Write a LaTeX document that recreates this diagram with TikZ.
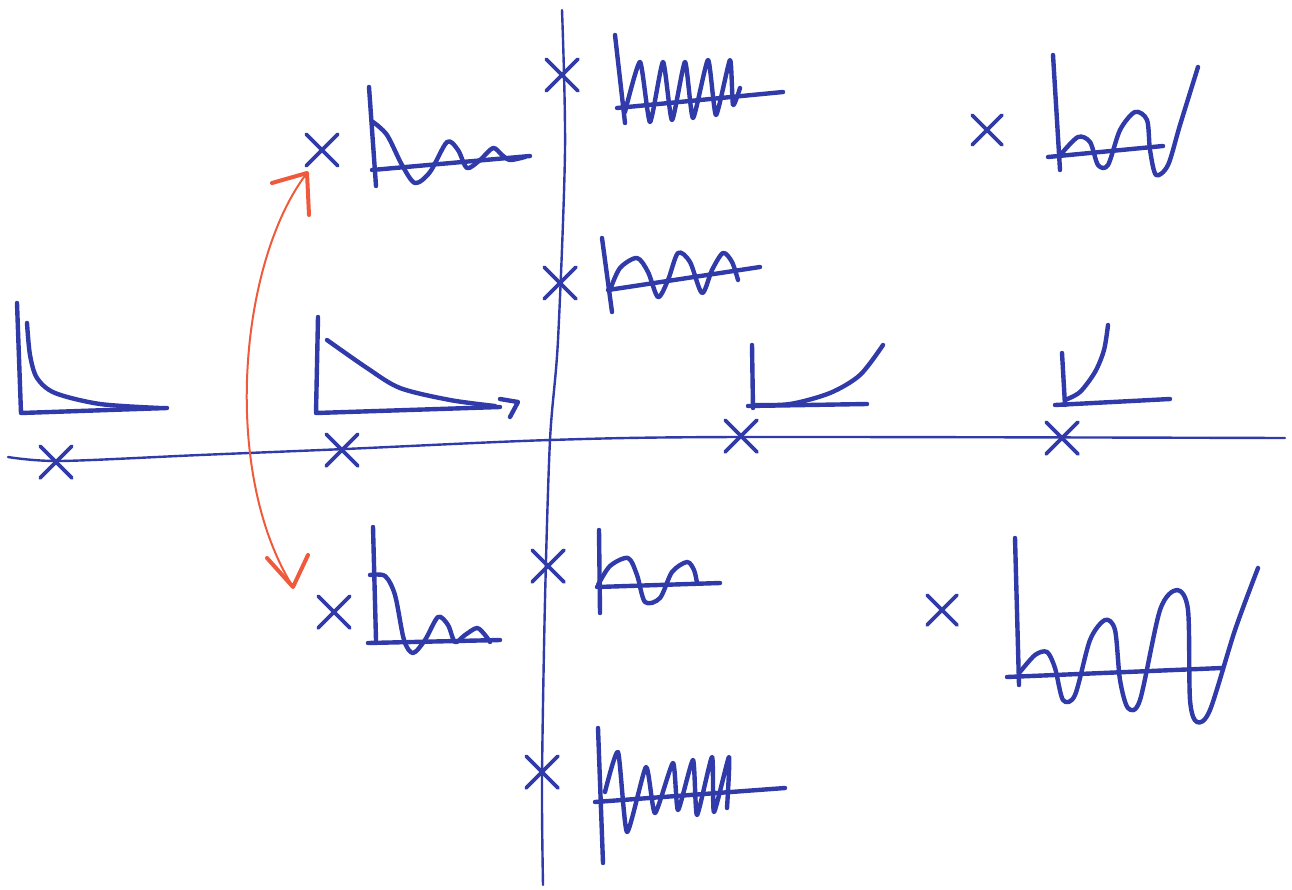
\documentclass[tikz,border=0pt]{standalone}
\usetikzlibrary{shapes.misc}
\definecolor{pen}{RGB}{48,58,168}
\definecolor{redpen}{RGB}{240,90,60}
\begin{document}
\begin{tikzpicture}[x=1pt,y=-1pt, line cap=round, line join=round,
  axis/.style={pen, line width=2.4pt},
  sk/.style={pen, line width=4.4pt},
  pole/.style={cross out, draw=pen, line width=3.8pt, minimum size=28pt, inner sep=0pt},
  redarc/.style={redpen, line width=2pt},
  redhead/.style={redpen, line width=4pt}]
\useasboundingbox (0,0) rectangle (1292,889);
% axes
\draw[axis] plot[smooth] coordinates {(8,457) (60,461) (200,455) (345,449) (550,440) (740,437) (1285,438)};
\draw[axis] plot[smooth] coordinates {(562,10) (565,150) (558,340) (550,440) (545,600) (542,780) (543,885)};
% poles
\node[pole] (p1) at (56,462) {};
\node[pole] (p2) at (342,450) {};
\node[pole] (p3) at (741,436) {};
\node[pole] (p4) at (1062,438) {};
\node[pole] (p5) at (322,150) {};
\node[pole] (p6) at (334,612) {};
\node[pole] (p7) at (562,75) {};
\node[pole] (p8) at (560,283) {};
\node[pole] (p9) at (548,566) {};
\node[pole] (p10) at (542,772) {};
\node[pole, minimum size=26pt] (p11) at (987,130) {};
\node[pole, minimum size=26pt] (p12) at (942,610) {};
% red double arrow
\coordinate (ra) at (307,173);
\coordinate (rb) at (293,587);
\draw[redarc] (ra) .. controls (240,260) and (220,470) .. (rb);
\draw[redhead] (272,183) -- (ra) -- (309,215);
\draw[redhead] (267,558) -- (rb) -- (308,555);
% A: fast decay
\draw[sk] (17,303) -- (21,413) -- (167,408);
\draw[sk] plot[smooth] coordinates {(27,323) (30,355) (37,378) (55,393) (100,404) (160,408)};
% B: slow decay
\draw[sk] (318,317) -- (316,413) -- (500,407);
\draw[sk] plot[smooth] coordinates {(327,340) (367,368) (400,388) (450,400) (495,406)};
\draw[sk] (500,399) -- (518,402) -- (510,417);
% C: damped upper left
\draw[sk] (369,87) -- (376,186);
\draw[sk] (372,170) -- (530,156);
\draw[sk] plot[smooth] coordinates {(373,122) (387,135) (402,165) (415,183) (430,172) (447,142) (458,150) (467,168) (480,160) (493,148) (502,155) (510,160) (525,157)};
% G: damped lower left
\draw[sk] (373,527) -- (376,640);
\draw[sk] (368,643) -- (500,640);
\draw[sk] plot[smooth] coordinates {(370,575) (385,576) (395,595) (404,640) (413,653) (425,640) (438,617) (448,625) (455,642) (465,635) (477,628) (485,635) (490,642)};
% D: top, high freq sustained
\draw[sk] (615,35) -- (625,123);
\draw[sk] (617,108) -- (783,92);
\draw[sk] plot[smooth, tension=0.35] coordinates {(625,112) (640,62) (650,122) (663,62) (672,120) (685,62) (693,118) (708,60) (716,115) (730,60) (733,105) (740,88)};
% E: sustained mid freq
\draw[sk] (602,238) -- (612,312);
\draw[sk] (608,290) -- (760,267);
\draw[sk] plot[smooth] coordinates {(610,290) (620,268) (637,258) (648,272) (658,297) (668,280) (678,253) (690,262) (702,293) (712,270) (723,253) (732,262) (738,280)};
% F: lower sustained
\draw[sk] (599,530) -- (600,613);
\draw[sk] (597,587) -- (720,583);
\draw[sk] plot[smooth] coordinates {(598,585) (610,566) (628,558) (637,575) (645,602) (660,598) (672,572) (687,562) (694,570) (697,583)};
% H: bottom, high freq sustained
\draw[sk] (598,728) -- (603,863);
\draw[sk] (595,802) -- (785,788);
\draw[sk] plot[smooth, tension=0.35] coordinates {(605,792) (618,752) (627,832) (646,767) (655,813) (673,763) (678,810) (693,760) (697,815) (712,757) (714,812) (729,757) (727,808)};
% I: slow growth
\draw[sk] (752,345) -- (753,408);
\draw[sk] (748,406) -- (867,404);
\draw[sk] plot[smooth] coordinates {(753,405) (790,404) (830,393) (860,375) (883,345)};
% J: fast growth
\draw[sk] (1062,353) -- (1065,405);
\draw[sk] (1055,405) -- (1170,399);
\draw[sk] plot[smooth] coordinates {(1065,400) (1080,392) (1095,372) (1104,350) (1108,325)};
% K: growing oscillation upper right
\draw[sk] (1053,55) -- (1060,170);
\draw[sk] (1048,157) -- (1163,146);
\draw[sk] plot[smooth] coordinates {(1062,153) (1078,137) (1090,142) (1098,165) (1108,165) (1120,130) (1135,112) (1147,120) (1150,150) (1156,175) (1168,165) (1180,125) (1198,67)};
% L: growing oscillation lower right
\draw[sk] (1015,538) -- (1019,685);
\draw[sk] (1007,677) -- (1222,668);
\draw[sk] plot[smooth] coordinates {(1020,672) (1035,655) (1047,652) (1055,668) (1063,700) (1075,695) (1090,640) (1105,620) (1115,630) (1120,680) (1128,708) (1140,700) (1160,610) (1177,590) (1188,610) (1190,700) (1197,722) (1210,710) (1235,630) (1258,568)};
\end{tikzpicture}
\end{document}
